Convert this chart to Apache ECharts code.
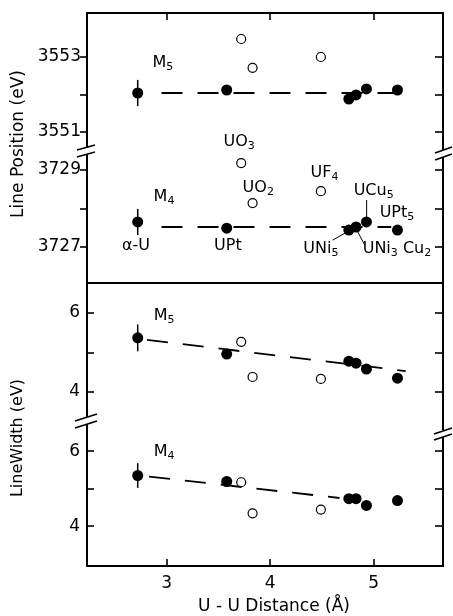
<!DOCTYPE html>
<html><head><meta charset="utf-8">
<script src="https://cdn.jsdelivr.net/npm/echarts@6/dist/echarts.min.js"></script>
<style>html,body{margin:0;padding:0;background:#fff}#c{width:453px;height:616px}</style>
</head><body><div id="c"></div>
<script>
// ---- data ----
const xTicks = [3, 4, 5];
const metalNames = ['α-U', 'UPt', 'UNi5', 'UNi3Cu2', 'UCu5', 'UPt5'];
const metalDist = [2.72, 3.58, 4.76, 4.83, 4.93, 5.23];
const ionicNames = ['UO3', 'UO2', 'UF4'];
const ionicDist = [3.72, 3.83, 4.49];

const posM5Metal = [3552.04, 3552.12, 3551.88, 3551.99, 3552.15, 3552.12];
const posM5Ionic = [3553.48, 3552.71, 3553.00];
const posM4Metal = [3727.65, 3727.49, 3727.44, 3727.52, 3727.65, 3727.44];
const posM4Ionic = [3729.18, 3728.14, 3728.45];
const widthM5Metal = [5.37, 4.96, 4.78, 4.73, 4.58, 4.35];
const widthM5Ionic = [5.27, 4.38, 4.33];
const widthM4Metal = [5.35, 5.19, 4.73, 4.73, 4.55, 4.68];
const widthM4Ionic = [5.17, 4.34, 4.44];
// error bar half-widths for alpha-U
const alphaUErr = [0.35, 0.34, 0.34, 0.33];

// dashed trend lines [x0, y0, x1, y1]
const trendPosM5 = [2.95, 3552.04, 5.20, 3552.04];
const trendPosM4 = [2.95, 3727.52, 5.17, 3727.52];
const trendWidthM5 = [2.81, 5.32, 5.31, 4.53];
const trendWidthM4 = [2.83, 5.32, 4.67, 4.75];

const posM5Ticks = [3551, 3552, 3553];
const posM5Labels = [3551, 3553];
const posM4Ticks = [3727, 3728, 3729];
const posM4Labels = [3727, 3729];
const widthTicks = [4, 5, 6];
const widthLabels = [4, 6];

// annotations (panel index, x, y, text)
const annotations = [
  [0, 2.964, 3552.84, 'M{s|5}'],
  [1, 2.974, 3728.30, 'M{s|4}'],
  [1, 2.704, 3727.03, 'α-U'],
  [1, 3.591, 3727.03, 'UPt'],
  [1, 3.70, 3729.72, 'UO{s|3}'],
  [1, 3.885, 3728.53, 'UO{s|2}'],
  [1, 4.525, 3728.92, 'UF{s|4}'],
  [1, 5.00, 3728.45, 'UCu{s|5}'],
  [1, 5.225, 3727.88, 'UPt{s|5}'],
  [1, 4.49, 3726.94, 'UNi{s|5}'],
  [1, 5.225, 3726.94, 'UNi{s|3} Cu{s|2}'],
  [2, 2.975, 5.92, 'M{s|5}'],
  [3, 2.975, 5.97, 'M{s|4}']
];
const leaders = [
  [4.932, 3728.22, 4.932, 3727.72],
  [4.605, 3727.18, 4.735, 3727.38],
  [4.912, 3727.06, 4.845, 3727.40]
];

// ---- layout ----
const FONT = 'DejaVu Sans';
const L = 87, R = 10;
const panels = [
  {top: 13,  height: 139, min: 3550.467, max: 3554.173, ticks: posM5Ticks, labels: posM5Labels, tickIn: false, xTop: true,  xTicks: true},
  {top: 152, height: 131, min: 3726.065, max: 3729.468, ticks: posM4Ticks, labels: posM4Labels, tickIn: false, xTop: false, xTicks: false},
  {top: 283, height: 137, min: 3.291, max: 6.759, ticks: widthTicks, labels: widthLabels, tickIn: true, xTop: true, xTicks: false},
  {top: 420, height: 150, min: 2.935, max: 6.831, ticks: widthTicks, labels: widthLabels, tickIn: true, xTop: false, xTicks: true}
];
const xMin = 2.23, xMax = 5.67;
const lineSt = {color: '#000', width: 2};
const plain = v => String(Math.round(v));

const grid = [], xAxis = [], yAxis = [];
panels.forEach((p, i) => {
  grid.push({left: L, right: R, top: p.top, height: p.height, show: false});
  const last = i === 3;
  xAxis.push({
    type: 'value', gridIndex: i, min: xMin, max: xMax, position: p.xTop ? 'top' : 'bottom',
    axisLine: {show: true, onZero: false, lineStyle: lineSt},
    axisTick: {show: p.xTicks, inside: true, length: 7, customValues: xTicks, lineStyle: {color: '#000', width: 1.6}},
    axisLabel: {show: last, customValues: xTicks, formatter: plain, margin: 9, color: '#000', fontSize: 17, fontFamily: FONT},
    splitLine: {show: false},
    name: last ? 'U - U Distance (Å)' : '', nameLocation: 'middle', nameGap: 32,
    nameTextStyle: {color: '#000', fontSize: 17, fontFamily: FONT, padding: [0, 0, 0, 18]}
  });
  yAxis.push({
    type: 'value', gridIndex: i, min: p.min, max: p.max, position: 'left',
    axisLine: {show: true, onZero: false, lineStyle: lineSt},
    axisTick: {show: true, inside: p.tickIn, length: 7, customValues: p.ticks, lineStyle: {color: '#000', width: 1.6}},
    axisLabel: {show: true, customValues: p.labels, formatter: plain, margin: p.tickIn ? 7 : 6, color: '#000', fontSize: 17, fontFamily: FONT},
    splitLine: {show: false}
  });
  yAxis.push({
    type: 'value', gridIndex: i, min: p.min, max: p.max, position: 'right',
    axisLine: {show: true, onZero: false, lineStyle: lineSt},
    axisTick: {show: true, inside: true, length: 8, customValues: p.ticks, lineStyle: {color: '#000', width: 1.6}},
    axisLabel: {show: false}, splitLine: {show: false}
  });
});

const series = [];
const trends = [trendPosM5, trendPosM4, trendWidthM5, trendWidthM4];
trends.forEach((t, i) => {
  series.push({
    type: 'line', xAxisIndex: i, yAxisIndex: 2 * i, data: [[t[0], t[1]], [t[2], t[3]]],
    showSymbol: false, symbol: 'none', silent: true,
    lineStyle: {color: '#000', width: 1.8, type: [21, 15]}
  });
});
leaders.forEach(l => {
  series.push({
    type: 'line', xAxisIndex: 1, yAxisIndex: 2, data: [[l[0], l[1]], [l[2], l[3]]],
    showSymbol: false, symbol: 'none', silent: true,
    lineStyle: {color: '#000', width: 1}
  });
});
const metalVals = [posM5Metal, posM4Metal, widthM5Metal, widthM4Metal];
const ionicVals = [posM5Ionic, posM4Ionic, widthM5Ionic, widthM4Ionic];
metalVals.forEach((vals, i) => {
  series.push({
    type: 'custom', xAxisIndex: i, yAxisIndex: 2 * i,
    data: [[metalDist[0], vals[0] - alphaUErr[i], vals[0] + alphaUErr[i]]],
    renderItem: (params, api) => {
      const a = api.coord([api.value(0), api.value(1)]);
      const b = api.coord([api.value(0), api.value(2)]);
      return {type: 'line', shape: {x1: a[0], y1: a[1], x2: b[0], y2: b[1]}, style: {stroke: '#000', lineWidth: 1.5}};
    }
  });
  series.push({
    type: 'scatter', xAxisIndex: i, yAxisIndex: 2 * i,
    data: metalDist.map((x, k) => [x, vals[k]]),
    symbol: 'circle', symbolSize: 11, itemStyle: {color: '#000', opacity: 1}
  });
  series.push({
    type: 'scatter', xAxisIndex: i, yAxisIndex: 2 * i,
    data: ionicDist.map((x, k) => [x, ionicVals[i][k]]),
    symbol: 'circle', symbolSize: 9, itemStyle: {color: '#fff', borderColor: '#000', borderWidth: 1.2, opacity: 1}
  });
});
[0, 1, 2, 3].forEach(i => {
  const items = annotations.filter(a => a[0] === i);
  series.push({
    type: 'scatter', xAxisIndex: i, yAxisIndex: 2 * i, clip: false, silent: true,
    symbolSize: 0, itemStyle: {color: 'transparent', opacity: 1},
    data: items.map(a => ({value: [a[1], a[2]], name: a[3]})),
    label: {
      show: true, position: 'inside', formatter: p => p.name,
      color: '#000', fontFamily: FONT, fontSize: 16, opacity: 1,
      rich: {
        s: {fontSize: 11, lineHeight: 11, padding: [8, 0, 0, 0], color: '#000', fontFamily: FONT}
      }
    }
  });
});

const breakMarks = [
  [[77, 150, 95, 145], [77, 157, 95, 152], [84, 148, 7, 6]],
  [[435, 153, 452, 147], [435, 160, 452, 154], [440, 150, 7, 7]],
  [[75, 421, 97, 414], [75, 428, 97, 421], [84, 417, 7, 7]],
  [[434, 434, 452, 428], [434, 440, 452, 434], [440, 430, 7, 7]]
];
const graphic = [];
breakMarks.forEach(b => {
  graphic.push({type: 'rect', shape: {x: b[2][0], y: b[2][1], width: b[2][2], height: b[2][3]}, style: {fill: '#fff'}, z: 100});
  graphic.push({type: 'line', shape: {x1: b[0][0], y1: b[0][1], x2: b[0][2], y2: b[0][3]}, style: {stroke: '#000', lineWidth: 1.8}, z: 101});
  graphic.push({type: 'line', shape: {x1: b[1][0], y1: b[1][1], x2: b[1][2], y2: b[1][3]}, style: {stroke: '#000', lineWidth: 1.8}, z: 101});
});
graphic.push({type: 'text', x: 19, y: 144, rotation: Math.PI / 2,
  style: {text: 'Line Position (eV)', fontSize: 17, fontFamily: FONT, fill: '#000', textAlign: 'center', textVerticalAlign: 'middle'}});
graphic.push({type: 'text', x: 18, y: 438, rotation: Math.PI / 2,
  style: {text: 'LineWidth (eV)', fontSize: 16, fontFamily: FONT, fill: '#000', textAlign: 'center', textVerticalAlign: 'middle'}});

const chart = echarts.init(document.getElementById('c'), null, {renderer: 'canvas'});
chart.setOption({animation: false, backgroundColor: '#fff', grid, xAxis, yAxis, series, graphic});
</script></body></html>
